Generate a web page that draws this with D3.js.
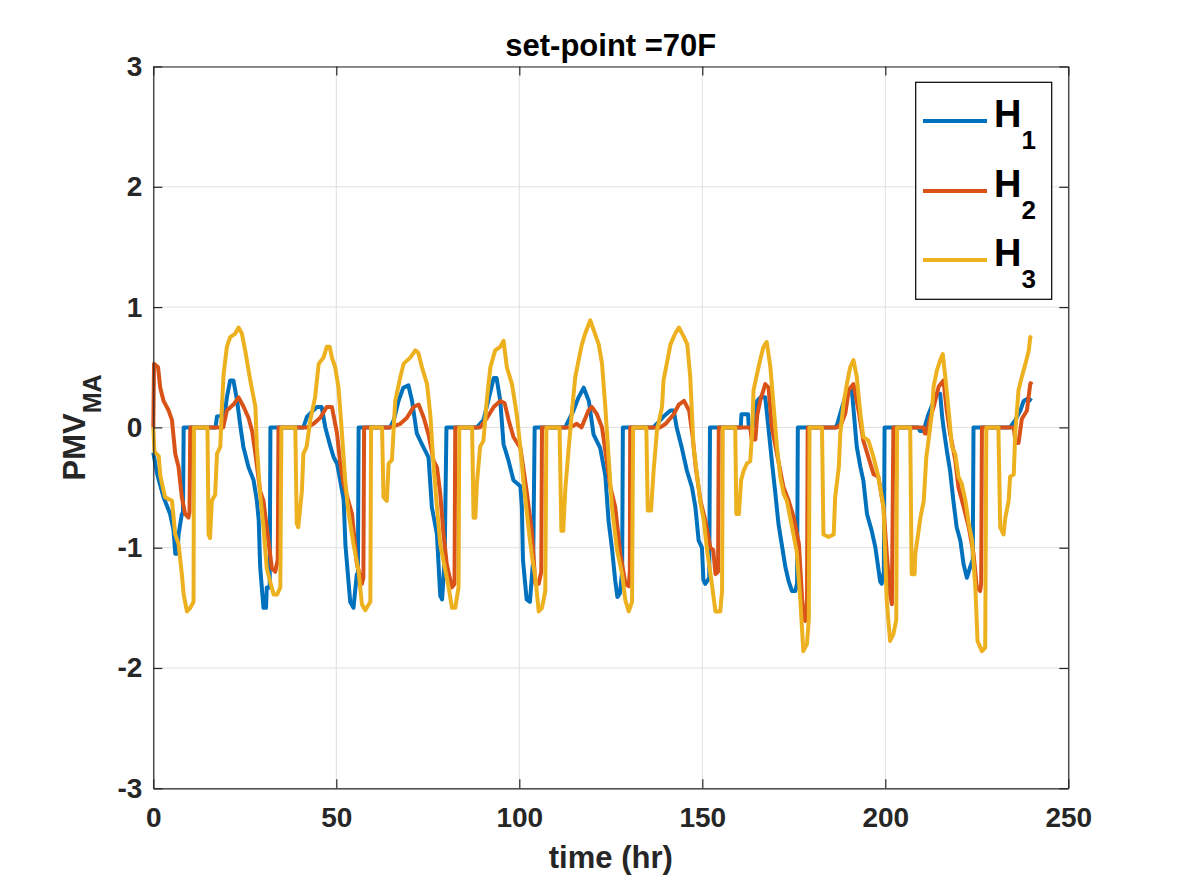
<!DOCTYPE html>
<html>
<head>
<meta charset="utf-8">
<script src="https://cdn.jsdelivr.net/npm/d3@7/dist/d3.min.js"></script>
<style>
  html, body { margin: 0; padding: 0; background: #fff; }
  svg { display: block; }
  text { font-family: "Liberation Sans", Arial, Helvetica, sans-serif; font-weight: bold; }
</style>
</head>
<body>
<svg id="chart" width="1181" height="886"></svg>
<script>
// ---- data (time in hours, PMV_MA values) ----
const seriesNames = ["H1", "H2", "H3"];
const seriesSubs = ["1", "2", "3"];
const seriesColors = ["#0072BD", "#D95319", "#EDB120"];
const xTicks = [0, 50, 100, 150, 200, 250];
const yTicks = [-3, -2, -1, 0, 1, 2, 3];
const titleText = "set-point =70F";
const xLabelText = "time (hr)";

const h1 = [[0,-0.21],[1,-0.38],[2.8,-0.58],[4.6,-0.72],[5.5,-0.85],[6,-1.05],[6.6,-1.05],[6.9,-0.89],[7.8,-0.72],[8.1,-0.72],[8.3,0],
[17,0],[17.4,0.09],[19.5,0.1],[20.1,0.25],[21,0.39],[21.9,0.39],[22.9,0.22],[23.7,0.03],[24.6,-0.16],[26,-0.33],[27.4,-0.44],[28.3,-0.61],[28.8,-0.77],[29.2,-1.16],[30.1,-1.5],[30.8,-1.5],[31,-1.33],[31.8,-1.33],[32,0],
[41,0],[42,0.09],[44.7,0.17],[46,0.17],[47,0],[48.4,-0.16],[49.3,-0.25],[50.2,-0.3],[51,-0.43],[52,-0.6],[52.5,-0.98],[53.8,-1.45],[54.7,-1.5],[55.6,-1.22],[55.9,-1.22],[56.1,0],
[64.7,0],[65.7,0.06],[67,0.22],[68.3,0.33],[69.7,0.35],[70.7,0.22],[72,-0.05],[73.4,-0.14],[75.2,-0.25],[76.1,-0.66],[77.5,-0.89],[78.4,-1.4],[78.9,-1.43],[79.6,-1.1],[80.1,0],
[88.4,0],[90.2,0.06],[91.5,0.22],[93,0.41],[93.8,0.41],[94.8,0.22],[95.7,-0.14],[97,-0.27],[98.4,-0.44],[100.3,-0.49],[100.7,-0.66],[101,-1.1],[102,-1.43],[102.9,-1.45],[103.8,-1.1],[104.2,0],
[112.6,0],[113,0.03],[114.8,0.14],[116.2,0.25],[117.6,0.33],[119,0.22],[120.3,-0.06],[122.1,-0.17],[123.5,-0.4],[124.4,-0.78],[125.3,-1.0],[126.2,-1.27],[126.8,-1.41],[127.5,-1.38],[128.1,-1.2],[128.3,0],
[136.6,0],[137.6,0.03],[139.4,0.09],[141.3,0.14],[142.2,0.14],[143,0],[144.4,-0.17],[145.8,-0.36],[147.2,-0.5],[148.1,-0.66],[149,-0.94],[149.9,-1.0],[150.3,-1.27],[150.8,-1.3],[151.9,-1.25],[152.1,0],
[160.5,0],[160.7,0.11],[162.5,0.11],[162.7,0],[163.8,0],[165,0.22],[165.9,0.25],[167.2,0.25],[168,0.02],[169,-0.28],[170,-0.56],[170.8,-0.8],[171.7,-0.97],[172.7,-1.16],[173.6,-1.28],[174.5,-1.36],[175.4,-1.36],[175.9,-1.3],[176.1,0],
[186.3,0],[186.8,0.02],[188.2,0.17],[189.5,0.3],[190.8,0.33],[191.2,0.19],[192.2,-0.16],[193.2,-0.33],[194,-0.44],[195,-0.72],[196.3,-0.86],[197.3,-1.0],[198.6,-1.28],[199,-1.3],[199.6,-1.2],[199.8,0],
[209,0],[209.5,-0.03],[210.5,-0.03],[211,0.03],[211.8,0.11],[213,0.2],[214,0.28],[215,0.28],[215.5,0.1],[215.9,0],[216.8,-0.19],[217.7,-0.36],[218.6,-0.61],[219.5,-0.83],[220.5,-0.94],[221.4,-1.14],[222.3,-1.25],[223.2,-1.16],[223.9,-1.1],[224.1,0],
[234.1,0],[235.5,0.06],[236.9,0.14],[237.8,0.22],[239,0.24],[240,0.22]];

const h2 = [[0,0],[0.2,0.53],[1.3,0.5],[1.9,0.33],[2.8,0.22],[4.2,0.14],[5.1,0.06],[6,-0.22],[6.9,-0.33],[7.8,-0.58],[8.7,-0.72],[9.6,-0.75],[9.9,-0.7],[10.1,0],
[19.1,0],[20.1,0.14],[21.9,0.19],[23.3,0.25],[24.7,0.17],[26,0.08],[27,-0.03],[27.9,-0.22],[29.2,-0.53],[30.1,-0.61],[31,-0.83],[32.4,-1.17],[33.3,-1.2],[34,-1.1],[34.2,0],
[42,0],[43.8,0.03],[45.6,0.08],[47.4,0.17],[48.8,0.17],[50.2,-0.05],[51,-0.28],[52,-0.47],[54.3,-0.72],[55.6,-1.13],[57,-1.3],[57.4,-1.25],[57.6,0],
[64.7,0],[67.5,0.03],[69.3,0.08],[71.1,0.17],[72.5,0.19],[73.9,0.08],[75.2,-0.06],[76.6,-0.28],[77.5,-0.33],[78.4,-0.55],[79.3,-0.89],[80.2,-1.14],[81.6,-1.33],[82.3,-1.3],[82.5,0],
[89.3,0],[91.2,0.08],[93,0.17],[94.8,0.22],[96,0.2],[97.1,0.06],[98.4,-0.08],[100.3,-0.17],[102,-0.53],[103.4,-0.86],[104.4,-1.3],[105.3,-1.3],[106,-1.2],[106.2,0],
[113.9,0],[115.7,0.03],[117,0],[118.9,0.14],[119.8,0.17],[121.2,0.11],[122.6,0],[123.9,-0.28],[124.9,-0.5],[126.2,-0.66],[127.6,-1.05],[129,-1.3],[129.9,-1.32],[130.2,-1.2],[130.3,0],
[138.5,0],[140,0.03],[142.2,0.11],[143.6,0.19],[145,0.22],[146.4,0.14],[147.3,-0.06],[148.2,-0.33],[149.5,-0.61],[150.8,-0.77],[152.2,-1.0],[153,-1.02],[153.6,-1.22],[154.3,-1.2],[154.5,0],
[163.1,0],[163.5,-0.1],[164.5,-0.1],[165,0.1],[165.8,0.22],[167.2,0.36],[168.1,0.33],[169,0],[170.4,-0.22],[172.2,-0.5],[173.6,-0.61],[175,-0.75],[176.4,-0.97],[177.3,-1.44],[178.1,-1.61],[178.6,-1.5],[178.8,0],
[186.8,0],[188,0.03],[189.1,0.12],[190,0.31],[191.3,0.36],[192.7,0.14],[194,-0.11],[195.4,-0.25],[196.8,-0.39],[198.1,-0.41],[199.5,-0.66],[200.4,-1.05],[201.3,-1.39],[201.8,-1.47],[202.2,0],
[210.5,0],[210.8,-0.05],[211.4,-0.05],[212,0.05],[213.2,0.17],[214.6,0.34],[215.9,0.39],[216.8,0.14],[217.7,-0.05],[219.1,-0.27],[220,-0.5],[221.4,-0.66],[222.8,-0.83],[224.1,-1.05],[225,-1.33],[225.9,-1.36],[226.2,-1.3],[226.4,0],
[235.1,0],[235.6,-0.13],[236.4,-0.13],[237.3,0.07],[238.7,0.14],[239.6,0.36],[240,0.38]];

const h3 = [[0,0],[0.3,-0.2],[1.5,-0.24],[1.9,-0.4],[3.2,-0.58],[5.1,-0.61],[6,-0.89],[6.9,-0.97],[7.8,-1.22],[8.3,-1.39],[9.2,-1.53],[10.1,-1.5],[11,-1.45],[11.1,0],
[14.8,0],[15.1,-0.89],[15.5,-0.92],[16,-0.61],[16.9,-0.56],[17.4,-0.22],[18.3,-0.16],[18.7,0.14],[19.2,0.44],[20.1,0.67],[21,0.75],[22.4,0.78],[23.3,0.83],[24.2,0.78],[25.1,0.64],[26.5,0.39],[27.9,0.17],[28.3,-0.16],[29.2,-0.56],[30.1,-0.83],[31,-1.17],[31.9,-1.28],[32.9,-1.39],[33.8,-1.39],[34.7,-1.33],[35,0],
[38.8,0],[39.2,-0.8],[39.6,-0.83],[40.6,-0.53],[41,-0.22],[41.9,-0.16],[42.9,0.06],[44.2,0.25],[45.2,0.53],[46.5,0.58],[47.4,0.67],[48.2,0.67],[48.8,0.58],[49.7,0.5],[50.6,0.33],[51.5,-0.03],[52.4,-0.43],[53.3,-0.7],[54.7,-0.97],[56.1,-1.2],[57,-1.47],[57.9,-1.52],[59.3,-1.45],[59.5,0],
[62.5,0],[62.9,-0.58],[63.8,-0.61],[64.3,-0.3],[65.2,-0.27],[65.7,0],[66.1,0.22],[67.5,0.42],[68.4,0.53],[70.2,0.58],[71.6,0.64],[72.4,0.62],[73.4,0.5],[74.8,0.36],[75.7,0.1],[76.6,-0.33],[77.5,-0.66],[78.4,-0.97],[79.8,-1.19],[80.7,-1.33],[81.6,-1.5],[82.5,-1.5],[83.4,-1.33],[83.6,0],
[87.1,0],[87.5,-0.75],[88,-0.75],[88.4,-0.47],[89.3,-0.16],[90.2,-0.11],[91.2,0.25],[92.1,0.5],[93.4,0.64],[94.8,0.67],[95.7,0.72],[96.6,0.5],[98,0.36],[99.3,0.11],[100.3,-0.17],[101.2,-0.47],[102.6,-0.86],[103.5,-1.08],[104.4,-1.25],[105.3,-1.53],[106.2,-1.5],[107.1,-1.36],[107.4,0],
[111,0],[111.5,-0.86],[112,-0.86],[112.6,-0.5],[113.5,-0.17],[114.4,0.14],[115.3,0.42],[116.2,0.56],[117.1,0.69],[118,0.78],[119.4,0.89],[120.3,0.81],[121.7,0.69],[122.6,0.53],[123.5,0.17],[124.4,-0.25],[125.3,-0.66],[126.7,-1.02],[128.1,-1.22],[129,-1.44],[129.9,-1.53],[130.8,-1.45],[131.1,0],
[134.7,0],[135.1,-0.69],[136,-0.69],[136.7,-0.36],[137.6,-0.03],[139,0.17],[139.4,0.39],[140.3,0.53],[141.3,0.69],[142.6,0.78],[143.6,0.83],[145,0.75],[145.9,0.69],[146.7,0.42],[147.6,-0.16],[148.5,-0.38],[149.5,-0.63],[150.4,-0.77],[151.3,-1.02],[152.6,-1.3],[153.6,-1.53],[154.9,-1.53],[155.4,-1.36],[155.6,0],
[159,0],[159.3,-0.72],[160,-0.72],[160.6,-0.44],[161.3,-0.36],[162.2,-0.3],[163.1,-0.28],[163.6,-0.05],[164,0.31],[165,0.45],[165.8,0.56],[166.7,0.67],[167.6,0.71],[168.6,0.5],[169.5,0.17],[170.4,-0.16],[171.3,-0.41],[172.2,-0.55],[173.1,-0.61],[174,-0.75],[174.9,-0.89],[175.8,-1.03],[176.8,-1.44],[177.6,-1.86],[178.6,-1.8],[179.1,-1.6],[179.3,0],
[182.7,0],[183.1,-0.89],[184.5,-0.91],[185.9,-0.89],[186.3,-0.58],[187.3,-0.33],[187.7,-0.05],[188.6,0.2],[189.5,0.36],[190.4,0.5],[191.3,0.56],[192.2,0.42],[193.2,0.11],[194,-0.08],[195.4,-0.11],[196.8,-0.25],[198.1,-0.41],[199.5,-0.66],[200.4,-1.44],[201.3,-1.775],[202.2,-1.72],[203,-1.6],[203.2,0],
[206.8,0],[207.2,-1.22],[208,-1.22],[208.2,-1.05],[209.6,-0.75],[210.5,-0.61],[211.2,-0.25],[211.8,-0.11],[212.7,0.11],[213.2,0.34],[214.1,0.475],[215,0.56],[215.7,0.61],[216.4,0.42],[217.3,0.14],[218.2,-0.16],[219.1,-0.22],[220,-0.41],[220.9,-0.47],[221.9,-0.61],[222.8,-0.8],[223.7,-0.94],[224.6,-1.33],[225.2,-1.775],[226.4,-1.86],[227.3,-1.83],[227.6,0],
[230.9,0],[231.4,-0.83],[232.3,-0.89],[232.8,-0.75],[233.7,-0.61],[234.1,-0.41],[235.1,-0.39],[235.5,-0.05],[236.4,0.31],[237.3,0.42],[238.3,0.53],[239.2,0.64],[239.6,0.75],[240,0.76]];

const seriesData = [h1, h2, h3];

// ---- layout ----
const svg = d3.select("#chart");
const L = 153.3, T = 66.5, R = 1068.3, B = 788.3;
const x = d3.scaleLinear().domain([0, 250]).range([L, R]);
const y = d3.scaleLinear().domain([-3, 3]).range([B, T]);
const axisColor = "#262626";
const fmt = d => String(d);

// grid
const grid = svg.append("g");
grid.selectAll(".gx").data(xTicks).enter().append("line")
  .attr("x1", d => x(d)).attr("x2", d => x(d)).attr("y1", T).attr("y2", B)
  .attr("stroke", "#dfdfdf").attr("stroke-width", 1);
grid.selectAll(".gy").data(yTicks).enter().append("line")
  .attr("x1", L).attr("x2", R).attr("y1", d => y(d)).attr("y2", d => y(d))
  .attr("stroke", "#dfdfdf").attr("stroke-width", 1);

// lines
const line = d3.line().x(d => x(d[0])).y(d => y(d[1]));
svg.append("g").selectAll("path").data(seriesData).enter().append("path")
  .attr("d", d => line(d))
  .attr("fill", "none")
  .attr("stroke", (d, i) => seriesColors[i])
  .attr("stroke-width", 4)
  .attr("stroke-linejoin", "round")
  .attr("stroke-linecap", "butt");

// axes (ticks inward, box on)
function styleAxis(g) {
  g.select(".domain").attr("stroke", axisColor).attr("stroke-width", 1.2);
  g.selectAll(".tick line").attr("stroke", axisColor).attr("stroke-width", 1.2);
  g.selectAll(".tick text").attr("fill", axisColor).attr("font-size", 28)
    .attr("font-family", '"Liberation Sans", Arial, sans-serif').attr("font-weight", "bold");
}
svg.append("g").attr("transform", `translate(0,${B})`)
  .call(d3.axisBottom(x).tickValues(xTicks).tickFormat(fmt).tickSizeInner(-9).tickSizeOuter(0).tickPadding(19))
  .call(styleAxis);
svg.append("g").attr("transform", `translate(${L},0)`)
  .call(d3.axisLeft(y).tickValues(yTicks).tickFormat(fmt).tickSizeInner(-9).tickSizeOuter(0).tickPadding(11))
  .call(styleAxis);
svg.append("g").attr("transform", `translate(0,${T})`)
  .call(d3.axisTop(x).tickValues(xTicks).tickFormat("").tickSizeInner(-9).tickSizeOuter(0))
  .call(styleAxis);
svg.append("g").attr("transform", `translate(${R},0)`)
  .call(d3.axisRight(y).tickValues(yTicks).tickFormat("").tickSizeInner(-9).tickSizeOuter(0))
  .call(styleAxis);

// title and labels
svg.append("text").attr("x", (L + R) / 2).attr("y", 56).attr("text-anchor", "middle")
  .attr("font-size", 31).attr("fill", "#000").text(titleText);
svg.append("text").attr("x", (L + R) / 2).attr("y", 868).attr("text-anchor", "middle")
  .attr("font-size", 31).attr("fill", axisColor).text(xLabelText);
const yl = svg.append("text").attr("transform", `translate(85,${(T + B) / 2}) rotate(-90)`)
  .attr("text-anchor", "middle").attr("font-size", 31).attr("fill", axisColor);
yl.append("tspan").text("PMV");
yl.append("tspan").attr("font-size", 25).attr("dy", 16).text("MA");

// legend
const lg = svg.append("g");
lg.append("rect").attr("x", 915.7).attr("y", 82.3).attr("width", 136).attr("height", 217)
  .attr("fill", "#fff").attr("stroke", "#000").attr("stroke-width", 1.2);
const legendY = [121, 191, 260];
seriesNames.forEach((name, i) => {
  lg.append("line").attr("x1", 923).attr("x2", 987).attr("y1", legendY[i]).attr("y2", legendY[i])
    .attr("stroke", seriesColors[i]).attr("stroke-width", 4);
  const t = lg.append("text").attr("x", 994).attr("y", legendY[i] + 6).attr("font-size", 38).attr("fill", "#000");
  t.append("tspan").text("H");
  t.append("tspan").attr("font-size", 26).attr("dy", 21.5).text(seriesSubs[i]);
});
</script>
</body>
</html>
